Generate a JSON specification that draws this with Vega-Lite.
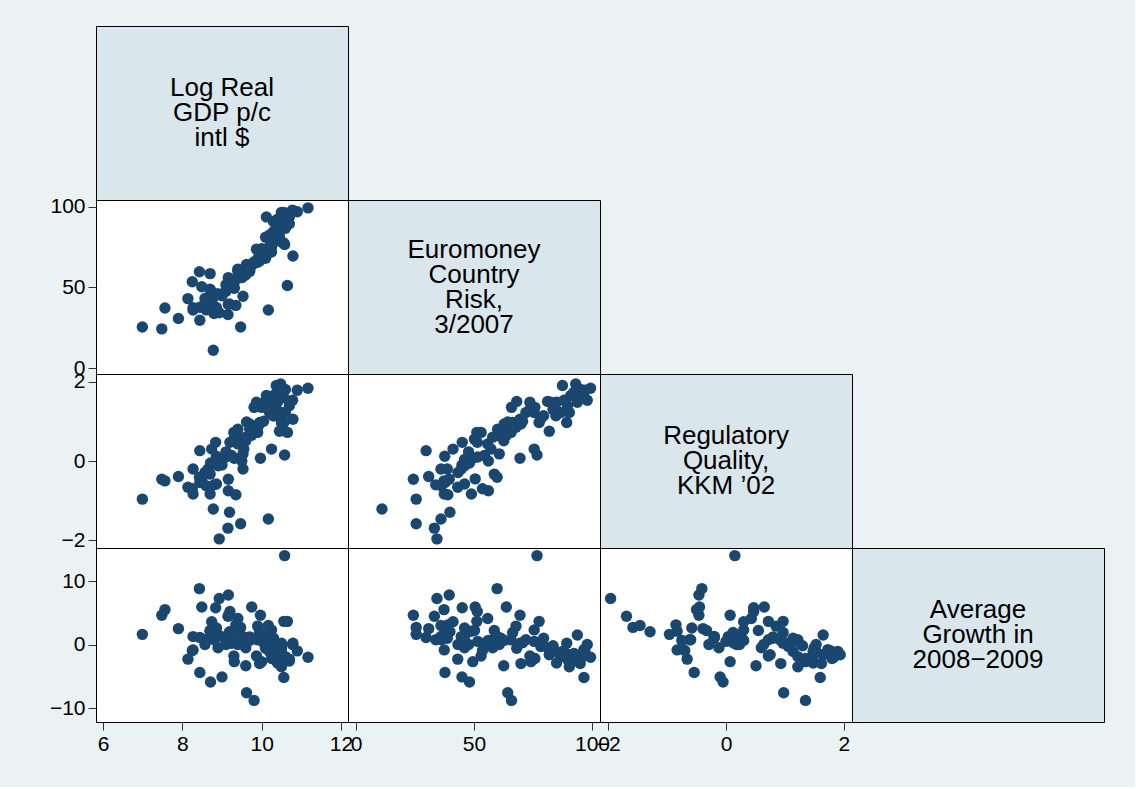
{
  "$schema": "https://vega.github.io/schema/vega-lite/v6.json",
  "background": "#eaf2f3",
  "padding": {"left": 48, "top": 25, "right": 30, "bottom": 32},
  "datasets": {
    "countries": [
      {"gdp": 8.78, "euro": 11.0, "reg": -1.21, "g": null},
      {"gdp": 9.47, "euro": 25.5, "reg": -1.58, "g": 2.7},
      {"gdp": 7.48, "euro": 24.3, "reg": -0.46, "g": 4.6},
      {"gdp": 6.99, "euro": 25.5, "reg": -0.96, "g": 1.6},
      {"gdp": 8.44, "euro": 29.7, "reg": 0.26, "g": 1.1},
      {"gdp": 7.9, "euro": 30.8, "reg": -0.39, "g": 2.5},
      {"gdp": 9.15, "euro": 33.2, "reg": -1.69, "g": 4.45},
      {"gdp": 8.93, "euro": 34.3, "reg": -1.96, "g": 7.25},
      {"gdp": 10.17, "euro": 36.0, "reg": -1.46, "g": 3.0},
      {"gdp": 9.19, "euro": 39.8, "reg": -1.29, "g": 2.0},
      {"gdp": 8.8, "euro": 33.8, "reg": -0.6, "g": 0.75},
      {"gdp": 8.27, "euro": 36.0, "reg": -0.2, "g": 1.25},
      {"gdp": 8.27, "euro": 37.4, "reg": -0.83, "g": -0.85},
      {"gdp": 9.35, "euro": 38.9, "reg": -0.85, "g": 3.1},
      {"gdp": 8.86, "euro": 37.6, "reg": 0.12, "g": 1.9},
      {"gdp": 8.65, "euro": 38.7, "reg": -0.2, "g": 1.0},
      {"gdp": 8.74, "euro": 41.1, "reg": 0.3, "g": 3.6},
      {"gdp": 8.84, "euro": 45.0, "reg": 0.47, "g": 5.8},
      {"gdp": 9.16, "euro": 39.5, "reg": -0.46, "g": 7.8},
      {"gdp": 8.14, "euro": 43.1, "reg": -0.66, "g": -2.3},
      {"gdp": 8.86, "euro": 46.0, "reg": -0.58, "g": 2.6},
      {"gdp": 9.53, "euro": 44.6, "reg": -0.2, "g": 1.25},
      {"gdp": 9.0, "euro": 44.9, "reg": -0.1, "g": -5.1},
      {"gdp": 9.1, "euro": 47.7, "reg": 0.23, "g": 0.0},
      {"gdp": 8.71, "euro": 48.1, "reg": -0.05, "g": -5.9},
      {"gdp": 8.49, "euro": 50.5, "reg": -0.45, "g": 5.9},
      {"gdp": 10.65, "euro": 51.2, "reg": 0.72, "g": 3.65},
      {"gdp": 9.31, "euro": 49.5, "reg": 0.07, "g": -2.7},
      {"gdp": 9.3, "euro": 53.0, "reg": 0.72, "g": -1.8},
      {"gdp": 9.2, "euro": 51.4, "reg": 0.47, "g": 5.2},
      {"gdp": 9.4, "euro": 55.8, "reg": 0.43, "g": 4.1},
      {"gdp": 9.16, "euro": 56.1, "reg": -0.75, "g": 0.65},
      {"gdp": 9.5, "euro": 56.1, "reg": 0.0, "g": 0.5},
      {"gdp": 8.7, "euro": 58.6, "reg": -0.33, "g": 2.2},
      {"gdp": 8.43, "euro": 59.8, "reg": -0.41, "g": 8.8},
      {"gdp": 9.53, "euro": 60.7, "reg": 0.18, "g": 0.0},
      {"gdp": 9.6, "euro": 57.9, "reg": 0.6, "g": -0.5},
      {"gdp": 9.4, "euro": 61.4, "reg": 0.8, "g": 1.0},
      {"gdp": 9.6, "euro": 62.6, "reg": 0.51, "g": -3.35},
      {"gdp": 9.62, "euro": 64.3, "reg": 0.98, "g": -7.6},
      {"gdp": 9.9, "euro": 65.7, "reg": 0.72, "g": 0.75},
      {"gdp": 9.9, "euro": 67.8, "reg": 0.85, "g": 2.9},
      {"gdp": 9.81, "euro": 65.9, "reg": 1.35, "g": -8.8},
      {"gdp": 10.1, "euro": 68.1, "reg": 1.5, "g": -0.6},
      {"gdp": 10.79, "euro": 69.5, "reg": 1.05, "g": 0.2},
      {"gdp": 9.95, "euro": 69.9, "reg": 0.93, "g": -3.0},
      {"gdp": 9.97, "euro": 69.5, "reg": 0.07, "g": 4.6},
      {"gdp": 10.25, "euro": 75.5, "reg": 0.3, "g": 2.3},
      {"gdp": 10.58, "euro": 76.7, "reg": 0.15, "g": 14.0},
      {"gdp": 10.0, "euro": 74.1, "reg": 1.35, "g": -2.7},
      {"gdp": 10.2, "euro": 75.5, "reg": 1.22, "g": 0.5},
      {"gdp": 10.56, "euro": 77.6, "reg": 0.97, "g": 3.65},
      {"gdp": 10.3, "euro": 79.5, "reg": 1.14, "g": 1.0},
      {"gdp": 10.45, "euro": 81.9, "reg": 0.75, "g": -1.6},
      {"gdp": 10.1, "euro": 81.2, "reg": 1.5, "g": -0.5},
      {"gdp": 10.4, "euro": 85.0, "reg": 1.48, "g": -2.9},
      {"gdp": 10.3, "euro": 84.7, "reg": 1.14, "g": -1.1},
      {"gdp": 10.37, "euro": 87.5, "reg": 1.9, "g": -1.1},
      {"gdp": 10.5, "euro": 89.3, "reg": 0.97, "g": 0.2},
      {"gdp": 10.5, "euro": 90.4, "reg": 1.22, "g": -3.5},
      {"gdp": 10.48, "euro": 93.1, "reg": 1.94, "g": -1.6},
      {"gdp": 10.12, "euro": 93.8, "reg": 1.65, "g": 1.5},
      {"gdp": 10.56, "euro": 96.6, "reg": 1.6, "g": -5.2},
      {"gdp": 11.17, "euro": 99.4, "reg": 1.83, "g": -2.0},
      {"gdp": 10.78, "euro": 98.0, "reg": 1.53, "g": 0.0},
      {"gdp": 10.6, "euro": 95.2, "reg": 1.8, "g": -2.2},
      {"gdp": 10.3, "euro": 91.0, "reg": 1.65, "g": -1.6},
      {"gdp": 10.4, "euro": 88.2, "reg": 1.53, "g": -1.1},
      {"gdp": 10.7, "euro": 93.8, "reg": 1.48, "g": -2.6},
      {"gdp": 10.2, "euro": 82.6, "reg": 1.48, "g": -1.1},
      {"gdp": 9.7, "euro": 62.8, "reg": 0.93, "g": 0.65},
      {"gdp": 9.75, "euro": 63.7, "reg": 0.65, "g": 5.9},
      {"gdp": 9.4, "euro": 60.0, "reg": 0.64, "g": 0.0},
      {"gdp": 9.24, "euro": 54.4, "reg": 0.14, "g": 0.2},
      {"gdp": 9.1, "euro": 51.6, "reg": 0.1, "g": 0.5},
      {"gdp": 8.9, "euro": 46.0, "reg": -0.12, "g": -0.5},
      {"gdp": 8.57, "euro": 43.2, "reg": -0.29, "g": 0.0},
      {"gdp": 8.6, "euro": 36.1, "reg": -0.62, "g": 0.75},
      {"gdp": 8.44, "euro": 37.7, "reg": -0.54, "g": -4.4},
      {"gdp": 9.0, "euro": 46.0, "reg": 0.04, "g": 1.25},
      {"gdp": 9.3, "euro": 50.2, "reg": 0.55, "g": 2.2},
      {"gdp": 9.55, "euro": 57.2, "reg": 0.3, "g": 0.65},
      {"gdp": 9.7, "euro": 60.0, "reg": 0.8, "g": 1.2},
      {"gdp": 9.95, "euro": 66.4, "reg": 0.97, "g": 1.9},
      {"gdp": 10.25, "euro": 72.0, "reg": 1.22, "g": 0.75},
      {"gdp": 10.5, "euro": 78.3, "reg": 1.06, "g": -0.3},
      {"gdp": 10.6, "euro": 86.8, "reg": 1.22, "g": -1.9},
      {"gdp": 10.4, "euro": 92.4, "reg": 1.73, "g": -1.4},
      {"gdp": 10.5, "euro": 96.6, "reg": 1.73, "g": -0.8},
      {"gdp": 10.7, "euro": 89.6, "reg": 1.39, "g": -2.3},
      {"gdp": 10.05, "euro": 70.6, "reg": 1.0, "g": 0.3},
      {"gdp": 7.56, "euro": 37.3, "reg": -0.5, "g": 5.5},
      {"gdp": 8.25, "euro": 53.6, "reg": -0.7, "g": -0.95},
      {"gdp": 8.7, "euro": 48.9, "reg": -0.83, "g": 2.1},
      {"gdp": 10.5, "euro": 95.0, "reg": 1.62, "g": -3.0},
      {"gdp": 10.9, "euro": 97.0, "reg": 1.78, "g": -1.0},
      {"gdp": 10.35, "euro": 83.5, "reg": 1.3, "g": -0.2},
      {"gdp": 9.87, "euro": 73.7, "reg": 1.48, "g": -1.8},
      {"gdp": 10.25, "euro": 75.8, "reg": 1.35, "g": -2.2}
    ],
    "labels": [
      {"v": "gdp", "label": "Log Real\nGDP p/c\nintl $"},
      {"v": "euro", "label": "Euromoney\nCountry\nRisk,\n3/2007"},
      {"v": "reg", "label": "Regulatory\nQuality,\nKKM ’02"},
      {"v": "g", "label": "Average\nGrowth in\n2008−2009"}
    ]
  },
  "data": {"name": "countries"},
  "columns": 4,
  "spacing": 0,
  "bounds": "flush",
  "concat": [
    {"width": 252, "height": 174, "view": {"fill": "#d9e6ec", "stroke": "#000"}, "data": {"name": "labels"}, "transform": [{"filter": "datum.v === 'gdp'"}],
     "mark": {"type": "text", "font": "Liberation Sans", "fontSize": 26, "lineBreak": "\n", "lineHeight": 25, "dy": -25, "align": "center", "baseline": "middle", "color": "#000"},
     "encoding": {"text": {"field": "label"}, "x": {"datum": 0.5, "type": "quantitative", "scale": {"domain": [0, 1]}, "axis": null}, "y": {"datum": 0.5, "type": "quantitative", "scale": {"domain": [0, 1]}, "axis": null}}},
    {"width": 252, "height": 174, "view": {"fill": null, "stroke": null}, "data": {"values": []}, "mark": "point", "encoding": {}},
    {"width": 252, "height": 174, "view": {"fill": null, "stroke": null}, "data": {"values": []}, "mark": "point", "encoding": {}},
    {"width": 252, "height": 174, "view": {"fill": null, "stroke": null}, "data": {"values": []}, "mark": "point", "encoding": {}},

    {"width": 252, "height": 174, "view": {"fill": "#ffffff", "stroke": "#000"},
     "mark": {"type": "circle", "size": 130, "opacity": 1, "color": "#1a476f"},
     "encoding": {
       "x": {"field": "gdp", "type": "quantitative", "scale": {"domain": [5.82, 12.18], "nice": false, "zero": false}, "axis": null},
       "y": {"field": "euro", "type": "quantitative", "scale": {"domain": [-3.7, 104.3], "nice": false, "zero": false}, "axis": {"values": [0, 50, 100], "title": null}}}},
    {"width": 252, "height": 174, "view": {"fill": "#d9e6ec", "stroke": "#000"}, "data": {"name": "labels"}, "transform": [{"filter": "datum.v === 'euro'"}],
     "mark": {"type": "text", "font": "Liberation Sans", "fontSize": 26, "lineBreak": "\n", "lineHeight": 25, "dy": -37.5, "align": "center", "baseline": "middle", "color": "#000"},
     "encoding": {"text": {"field": "label"}, "x": {"datum": 0.5, "type": "quantitative", "scale": {"domain": [0, 1]}, "axis": null}, "y": {"datum": 0.5, "type": "quantitative", "scale": {"domain": [0, 1]}, "axis": null}}},
    {"width": 252, "height": 174, "view": {"fill": null, "stroke": null}, "data": {"values": []}, "mark": "point", "encoding": {}},
    {"width": 252, "height": 174, "view": {"fill": null, "stroke": null}, "data": {"values": []}, "mark": "point", "encoding": {}},

    {"width": 252, "height": 174, "view": {"fill": "#ffffff", "stroke": "#000"},
     "mark": {"type": "circle", "size": 130, "opacity": 1, "color": "#1a476f"},
     "encoding": {
       "x": {"field": "gdp", "type": "quantitative", "scale": {"domain": [5.82, 12.18], "nice": false, "zero": false}, "axis": null},
       "y": {"field": "reg", "type": "quantitative", "scale": {"domain": [-2.19, 2.19], "nice": false, "zero": false}, "axis": {"values": [-2, 0, 2], "title": null}}}},
    {"width": 252, "height": 174, "view": {"fill": "#ffffff", "stroke": "#000"},
     "mark": {"type": "circle", "size": 130, "opacity": 1, "color": "#1a476f"},
     "encoding": {
       "x": {"field": "euro", "type": "quantitative", "scale": {"domain": [-3.4, 103.4], "nice": false, "zero": false}, "axis": null},
       "y": {"field": "reg", "type": "quantitative", "scale": {"domain": [-2.19, 2.19], "nice": false, "zero": false}, "axis": null}}},
    {"width": 252, "height": 174, "view": {"fill": "#d9e6ec", "stroke": "#000"}, "data": {"name": "labels"}, "transform": [{"filter": "datum.v === 'reg'"}],
     "mark": {"type": "text", "font": "Liberation Sans", "fontSize": 26, "lineBreak": "\n", "lineHeight": 25, "dy": -25, "align": "center", "baseline": "middle", "color": "#000"},
     "encoding": {"text": {"field": "label"}, "x": {"datum": 0.5, "type": "quantitative", "scale": {"domain": [0, 1]}, "axis": null}, "y": {"datum": 0.5, "type": "quantitative", "scale": {"domain": [0, 1]}, "axis": null}}},
    {"width": 252, "height": 174, "view": {"fill": null, "stroke": null}, "data": {"values": []}, "mark": "point", "encoding": {}},

    {"width": 252, "height": 174, "view": {"fill": "#ffffff", "stroke": "#000"},
     "mark": {"type": "circle", "size": 130, "opacity": 1, "color": "#1a476f"},
     "encoding": {
       "x": {"field": "gdp", "type": "quantitative", "scale": {"domain": [5.82, 12.18], "nice": false, "zero": false}, "axis": {"values": [6, 8, 10, 12], "title": null}},
       "y": {"field": "g", "type": "quantitative", "scale": {"domain": [-12.2, 15.2], "nice": false, "zero": false}, "axis": {"values": [-10, 0, 10], "title": null}}}},
    {"width": 252, "height": 174, "view": {"fill": "#ffffff", "stroke": "#000"},
     "mark": {"type": "circle", "size": 130, "opacity": 1, "color": "#1a476f"},
     "encoding": {
       "x": {"field": "euro", "type": "quantitative", "scale": {"domain": [-3.4, 103.4], "nice": false, "zero": false}, "axis": {"values": [0, 50, 100], "title": null}},
       "y": {"field": "g", "type": "quantitative", "scale": {"domain": [-12.2, 15.2], "nice": false, "zero": false}, "axis": null}}},
    {"width": 252, "height": 174, "view": {"fill": "#ffffff", "stroke": "#000"},
     "mark": {"type": "circle", "size": 130, "opacity": 1, "color": "#1a476f"},
     "encoding": {
       "x": {"field": "reg", "type": "quantitative", "scale": {"domain": [-2.14, 2.14], "nice": false, "zero": false}, "axis": {"values": [-2, 0, 2], "title": null}},
       "y": {"field": "g", "type": "quantitative", "scale": {"domain": [-12.2, 15.2], "nice": false, "zero": false}, "axis": null}}},
    {"width": 252, "height": 174, "view": {"fill": "#d9e6ec", "stroke": "#000"}, "data": {"name": "labels"}, "transform": [{"filter": "datum.v === 'g'"}],
     "mark": {"type": "text", "font": "Liberation Sans", "fontSize": 26, "lineBreak": "\n", "lineHeight": 25, "dy": -25, "align": "center", "baseline": "middle", "color": "#000"},
     "encoding": {"text": {"field": "label"}, "x": {"datum": 0.5, "type": "quantitative", "scale": {"domain": [0, 1]}, "axis": null}, "y": {"datum": 0.5, "type": "quantitative", "scale": {"domain": [0, 1]}, "axis": null}}}
  ],
  "config": {
    "view": {"stroke": "#000", "strokeWidth": 1},
    "axis": {
      "domain": false,
      "grid": false,
      "ticks": true,
      "tickSize": 8,
      "tickColor": "#333",
      "tickWidth": 1,
      "labelFont": "Liberation Sans",
      "labelFontSize": 21,
      "labelColor": "#000",
      "labelPadding": 3,
      "labelFlush": false,
      "labelOverlap": false,
      "labelBound": false
    }
  }
}
